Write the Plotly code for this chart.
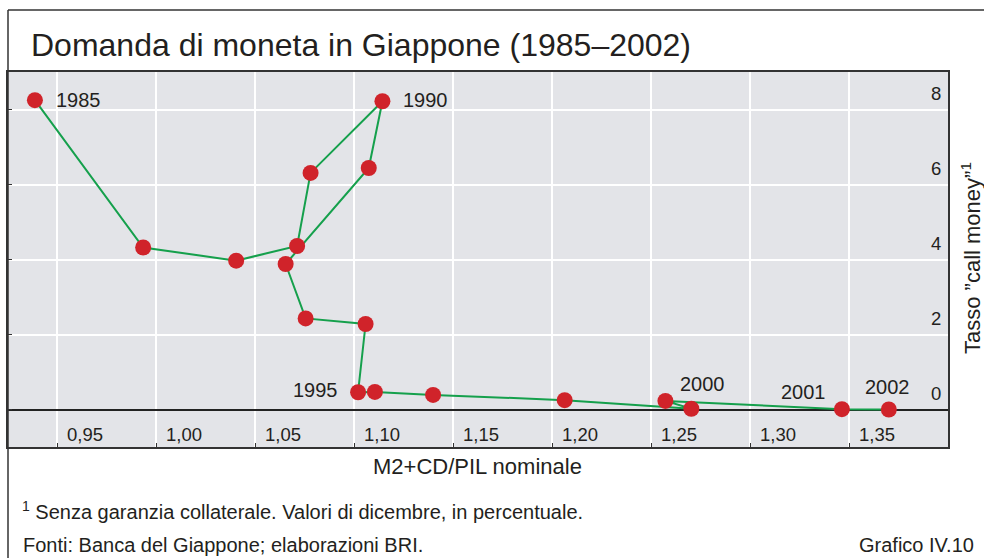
import plotly.graph_objects as go

# ---- data ----
years = [1985, 1986, 1987, 1988, 1989, 1990, 1991, 1992, 1993, 1994,
         1995, 1996, 1997, 1998, 1999, 2000, 2001, 2002]
m2_gdp = [0.9386, 0.9933, 1.0403, 1.0711, 1.0779, 1.1142, 1.1073, 1.0653, 1.0754, 1.1057,
          1.1019, 1.1104, 1.1398, 1.2063, 1.2703, 1.2572, 1.3464, 1.3701]
call_rate = [8.25, 4.32, 3.97, 4.36, 6.31, 8.22, 6.44, 3.88, 2.43, 2.28,
             0.46, 0.47, 0.39, 0.25, 0.02, 0.23, 0.01, 0.00]
x_ticks = [0.95, 1.00, 1.05, 1.10, 1.15, 1.20, 1.25, 1.30, 1.35]
x_tick_labels = ["0,95", "1,00", "1,05", "1,10", "1,15", "1,20", "1,25", "1,30", "1,35"]
y_ticks = [0, 2, 4, 6, 8]
y_tick_labels = ["0", "2", "4", "6", "8"]
labelled_years = {1985: (19, 0, "left"), 1990: (19, -1, "left"), 1995: (-18, -2, "right"),
                  2000: (37, -17, "center"), 2001: (-38, -17, "center"), 2002: (-1, -23, "center")}

title = "Domanda di moneta in Giappone (1985–2002)"
x_title = "M2+CD/PIL nominale"
y_title = "Tasso ”call money”<sup>1</sup>"
footnote = "<sup>1</sup> Senza garanzia collaterale. Valori di dicembre, in percentuale."
source = "Fonti: Banca del Giappone; elaborazioni BRI."
chart_id = "Grafico IV.10"

W, H = 984, 558
L, R, T, B = 8, 948, 72, 447          # plot box in pixels
FONT = "Liberation Sans, Arial, sans-serif"
TXT = "#231f20"


def px(x):
    return (x - L) / (R - L)


def py(y):
    return (B - y) / (B - T)


fig = go.Figure()
fig.add_trace(go.Scatter(
    x=m2_gdp, y=call_rate, mode="lines+markers",
    line=dict(color="#15a04c", width=2),
    marker=dict(color="#d0232a", size=16, line=dict(width=0)),
    hoverinfo="skip", showlegend=False,
))

annotations = []
for yr, (dx, dy, anchor) in labelled_years.items():
    i = years.index(yr)
    annotations.append(dict(x=m2_gdp[i], y=call_rate[i], xref="x", yref="y", text=str(yr),
                            showarrow=False, xanchor=anchor, yanchor="middle",
                            xshift=dx, yshift=-dy, font=dict(size=20, color=TXT, family=FONT)))
for v, t in zip(x_ticks, x_tick_labels):
    annotations.append(dict(x=v, y=-0.66, xref="x", yref="y", text=t, showarrow=False,
                            xanchor="left", yanchor="middle", xshift=8,
                            font=dict(size=18.5, color=TXT, family=FONT)))
for v, t in zip(y_ticks, y_tick_labels):
    annotations.append(dict(x=px(943), y=v, xref="paper", yref="y", text=t, showarrow=False,
                            xanchor="right", yanchor="middle", yshift=16,
                            font=dict(size=18.5, color=TXT, family=FONT)))

annotations += [
    dict(x=px(29), y=py(45), xref="paper", yref="paper", text=title, showarrow=False,
         xanchor="left", yanchor="middle", font=dict(size=32, color=TXT, family=FONT)),
    dict(x=px(477), y=py(467), xref="paper", yref="paper", text=x_title, showarrow=False,
         xanchor="center", yanchor="middle", font=dict(size=22, color=TXT, family=FONT)),
    dict(x=px(971), y=py(258), xref="paper", yref="paper", text=y_title, showarrow=False,
         textangle=-90, xanchor="center", yanchor="middle",
         font=dict(size=22, color=TXT, family=FONT)),
    dict(x=px(20), y=py(510), xref="paper", yref="paper", text=footnote, showarrow=False,
         xanchor="left", yanchor="middle", font=dict(size=20, color=TXT, family=FONT)),
    dict(x=px(21), y=py(545), xref="paper", yref="paper", text=source, showarrow=False,
         xanchor="left", yanchor="middle", font=dict(size=20, color=TXT, family=FONT)),
    dict(x=px(976), y=py(545), xref="paper", yref="paper", text=chart_id, showarrow=False,
         xanchor="right", yanchor="middle", font=dict(size=20, color=TXT, family=FONT)),
]

shapes = [
    # outer frame
    dict(type="line", xref="paper", yref="paper", x0=px(8), x1=px(990), y0=py(10), y1=py(10),
         line=dict(color="#333333", width=1.5)),
    dict(type="line", xref="paper", yref="paper", x0=px(8), x1=px(8), y0=py(10), y1=py(560),
         line=dict(color="#333333", width=1.5)),
]

fig.update_layout(
    width=W, height=H,
    margin=dict(l=L, r=W - R, t=T, b=H - B, pad=0),
    paper_bgcolor="white", plot_bgcolor="#e3e4e8",
    showlegend=False,
    annotations=annotations, shapes=shapes,
    font=dict(family=FONT, color=TXT),
)
fig.update_xaxes(range=[0.925, 1.40], tickvals=x_ticks, showticklabels=False,
                 showgrid=True, gridcolor="white", gridwidth=1.5,
                 ticks="inside", ticklen=4, tickcolor="#333333",
                 showline=True, linecolor="#333333", linewidth=1.5, mirror=True,
                 zeroline=False, fixedrange=True)
fig.update_yaxes(range=[-1, 9], tickvals=y_ticks, showticklabels=False,
                 showgrid=True, gridcolor="white", gridwidth=1.5,
                 ticks="inside", ticklen=4, tickcolor="#333333",
                 showline=True, linecolor="#333333", linewidth=1.5, mirror=True,
                 zeroline=True, zerolinecolor="#222222", zerolinewidth=1.5, fixedrange=True)

# remove the default page margin so the figure fills the 984x558 window exactly
fig.write_html(
    "out.html",
    config={"displayModeBar": False},
    post_script="document.body.style.margin='0';"
                "document.documentElement.style.overflow='hidden';"
                "document.body.style.overflow='hidden';",
)
